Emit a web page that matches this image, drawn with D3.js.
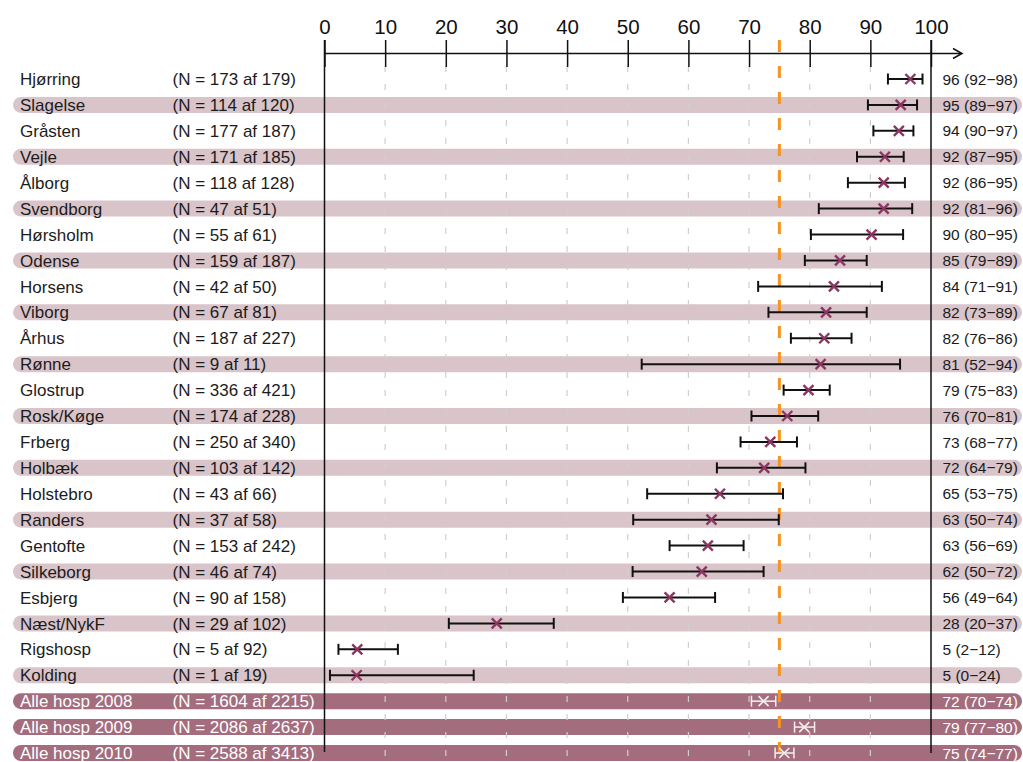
<!DOCTYPE html>
<html>
<head>
<meta charset="utf-8">
<script src="https://cdn.jsdelivr.net/npm/d3@7"></script>
<style>
  html, body { margin: 0; padding: 0; background: #fff; }
  svg { display: block; font-family: "Liberation Sans", Arial, Helvetica, sans-serif; }
</style>
</head>
<body>
<svg id="chart" width="1023" height="762"></svg>
<script>
// Hospital rows (top to bottom) followed by the three national totals
const hospitals = ["Hjørring", "Slagelse", "Gråsten", "Vejle", "Ålborg", "Svendborg", "Hørsholm",
  "Odense", "Horsens", "Viborg", "Århus", "Rønne", "Glostrup", "Rosk/Køge", "Frberg", "Holbæk",
  "Holstebro", "Randers", "Gentofte", "Silkeborg", "Esbjerg", "Næst/NykF", "Rigshosp", "Kolding",
  "Alle hosp 2008", "Alle hosp 2009", "Alle hosp 2010"];
const nCount = [173, 114, 177, 171, 118, 47, 55, 159, 42, 67, 187, 9, 336, 174, 250, 103,
  43, 37, 153, 46, 90, 29, 5, 1, 1604, 2086, 2588];
const nTotal = [179, 120, 187, 185, 128, 51, 61, 187, 50, 81, 227, 11, 421, 228, 340, 142,
  66, 58, 242, 74, 158, 102, 92, 19, 2215, 2637, 3413];
// Percentage estimate with lower / upper confidence limits
const estimate = [96.6, 95.0, 94.7, 92.4, 92.2, 92.2, 90.2, 85.0, 84.0, 82.7, 82.4, 81.8, 79.8, 76.3,
  73.5, 72.5, 65.2, 63.8, 63.2, 62.2, 56.9, 28.4, 5.4, 5.3, 72.4, 79.1, 75.8];
const lower = [92.9, 89.6, 90.5, 87.8, 86.3, 81.5, 80.2, 79.2, 71.5, 73.2, 76.9, 52.3, 75.7, 70.4,
  68.6, 64.7, 53.2, 50.9, 56.9, 50.8, 49.2, 20.5, 2.3, 0.9, 70.4, 77.5, 74.3];
const upper = [98.6, 97.7, 97.1, 95.5, 95.7, 96.9, 95.4, 89.4, 91.9, 89.4, 86.9, 94.9, 83.3, 81.4,
  77.9, 79.3, 75.6, 74.9, 69.1, 72.4, 64.4, 37.8, 12.1, 24.6, 74.4, 80.8, 77.4];
const summaryRows = ["Alle hosp 2008", "Alle hosp 2009", "Alle hosp 2010"];
const axisTicks = [0, 10, 20, 30, 40, 50, 60, 70, 80, 90, 100];
const targetLevel = 75;

const rows = hospitals.map((name, i) => ({
  name, n: nCount[i], total: nTotal[i], est: estimate[i], lo: lower[i], hi: upper[i],
  summary: summaryRows.includes(name), idx: i
}));

const svg = d3.select("#chart");
const x = d3.scaleLinear().domain([0, 100]).range([324.5, 931]);
const y = d3.scalePoint().domain(hospitals).range([79, 753]);

const axisY = 53.5;
const topY = 40;
const bottomY = 762;
const lightBand = "#d9c4ca";
const darkBand = "#a36d7e";
const markColor = "#8c3562";
const textColor = "#1c1c1c";

// Row bands: alternate hospitals shaded lightly, totals shaded dark
svg.append("g").selectAll("rect")
  .data(rows.filter(d => d.summary || d.idx % 2 === 1))
  .join("rect")
  .attr("x", 13).attr("width", 1009)
  .attr("y", d => y(d.name) - 8).attr("height", 16)
  .attr("rx", 8).attr("ry", 8)
  .attr("fill", d => d.summary ? darkBand : lightBand);

// Dashed gridlines
svg.append("g").selectAll("line")
  .data(axisTicks.filter(t => t > 0 && t < 100))
  .join("line")
  .attr("x1", d => x(d)).attr("x2", d => x(d))
  .attr("y1", 66).attr("y2", bottomY)
  .attr("stroke", "#cfcfcf").attr("stroke-width", 1.2)
  .attr("stroke-dasharray", "6,12");

// Top axis
const axis = d3.axisTop(x).tickValues(axisTicks).tickSizeInner(13).tickSizeOuter(0).tickPadding(7);
const gAxis = svg.append("g").attr("transform", `translate(0,${axisY})`).call(axis);
gAxis.select(".domain").remove();
gAxis.selectAll(".tick line").attr("y1", -13.5).attr("y2", 13.5)
  .attr("stroke", "#111").attr("stroke-width", 1.5);
gAxis.selectAll(".tick text").attr("font-size", 20.5).attr("fill", "#111")
  .attr("font-family", "Liberation Sans, Arial, sans-serif").attr("y", -20).attr("dy", 0);

// Axis line with open arrowhead
svg.append("line").attr("x1", x(0)).attr("x2", 961).attr("y1", axisY).attr("y2", axisY)
  .attr("stroke", "#111").attr("stroke-width", 1.5);
svg.append("path").attr("d", `M953,${axisY - 5}L962,${axisY}L953,${axisY + 5}`)
  .attr("fill", "none").attr("stroke", "#111").attr("stroke-width", 1.5);

// Frame lines at 0 and 100
svg.append("line").attr("x1", x(0)).attr("x2", x(0)).attr("y1", topY).attr("y2", 752)
  .attr("stroke", "#111").attr("stroke-width", 1.5);
svg.append("line").attr("x1", x(100)).attr("x2", x(100)).attr("y1", topY).attr("y2", 753)
  .attr("stroke", "#111").attr("stroke-width", 1.5);

// Target level
svg.append("line").attr("x1", x(targetLevel)).attr("x2", x(targetLevel))
  .attr("y1", topY).attr("y2", bottomY)
  .attr("stroke", "#f7941d").attr("stroke-width", 3)
  .attr("stroke-dasharray", "12,14");

// Confidence intervals
const ci = svg.append("g").selectAll("g").data(rows).join("g")
  .attr("stroke", d => d.summary ? "#f4f0f1" : "#111")
  .attr("stroke-width", d => d.summary ? 1.5 : 2);
ci.append("line")
  .attr("x1", d => x(d.lo)).attr("x2", d => x(d.hi))
  .attr("y1", d => y(d.name)).attr("y2", d => y(d.name));
ci.append("line")
  .attr("x1", d => x(d.lo)).attr("x2", d => x(d.lo))
  .attr("y1", d => y(d.name) - 5.5).attr("y2", d => y(d.name) + 5.5);
ci.append("line")
  .attr("x1", d => x(d.hi)).attr("x2", d => x(d.hi))
  .attr("y1", d => y(d.name) - 5.5).attr("y2", d => y(d.name) + 5.5);

// Point estimates as crosses
const s = 5;
svg.append("g").selectAll("path").data(rows).join("path")
  .attr("d", d => {
    const cx = x(d.est), cy = y(d.name);
    return `M${cx - s},${cy - s}L${cx + s},${cy + s}M${cx - s},${cy + s}L${cx + s},${cy - s}`;
  })
  .attr("fill", "none")
  .attr("stroke", d => d.summary ? "#f4f0f1" : markColor)
  .attr("stroke-width", d => d.summary ? 1.6 : 2.4);

// Row labels
const labels = svg.append("g");
labels.selectAll("text.name").data(rows).join("text")
  .attr("class", "name").attr("font-size", 17)
  .attr("x", 20).attr("y", d => y(d.name)).attr("dy", "0.36em")
  .attr("fill", d => d.summary ? "#fff" : textColor)
  .text(d => d.name);
labels.selectAll("text.count").data(rows).join("text")
  .attr("class", "count").attr("font-size", 17)
  .attr("x", 172.5).attr("y", d => y(d.name)).attr("dy", "0.36em")
  .attr("fill", d => d.summary ? "#fff" : textColor)
  .text(d => `(N = ${d.n} af ${d.total})`);
labels.selectAll("text.value").data(rows).join("text")
  .attr("class", "value").attr("font-size", 15.5)
  .attr("x", 942.5).attr("y", d => y(d.name)).attr("dy", "0.36em")
  .attr("fill", d => d.summary ? "#fff" : textColor)
  .text(d => `${Math.floor(d.est)} (${Math.floor(d.lo)}\u2212${Math.floor(d.hi)})`);
</script>
</body>
</html>
